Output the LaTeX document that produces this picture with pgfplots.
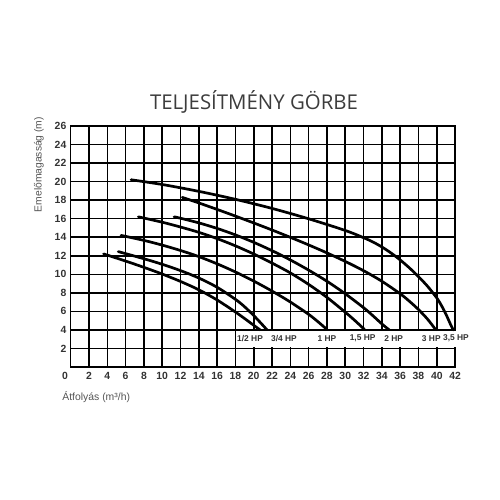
\documentclass[border=0pt]{standalone}
\usepackage{pgfplots}
\pgfplotsset{compat=1.18}
\usepackage{fontspec}
\setmainfont{Liberation Sans}
\newfontfamily\titlefont{Open Sans}
\definecolor{titlegray}{HTML}{3C3C3C}
\definecolor{labelgray}{HTML}{555555}
\definecolor{tickgray}{HTML}{333333}
\tikzset{pump/.style={black, line width=1.35pt, smooth, line cap=round}}

\begin{document}
\begin{tikzpicture}
% page frame, 1 px of the reference = 0.5pt
\useasboundingbox (-35.35pt,-66.5pt) rectangle (214.65pt,183.5pt);

\begin{axis}[
    at={(0pt,0pt)}, anchor=south west,
    scale only axis,
    width=192.2pt, height=120.5pt,
    xmin=0, xmax=42, ymin=0, ymax=26,
    xtick={0,2,...,42},
    xticklabels={\makebox[0pt][r]{0\kern1.45pt},2,4,6,8,10,12,14,16,18,20,22,24,26,28,30,32,34,36,38,40,42},
    ytick={2,4,...,26},
    major tick length=0pt,
    grid=major,
    major grid style={black, line width=0.8pt},
    axis line style={black, line width=0.8pt},
    /pgf/number format/assume math mode=true,
    tick label style={font=\fontsize{5.2}{6}\selectfont\bfseries, text=tickgray},
    yticklabel style={inner sep=1pt, xshift=-1pt},
    xticklabel style={inner sep=1pt, yshift=-1.5pt},
    clip=false,
]
% white band behind the pump labels
\fill[white] (axis cs:18.24,2.14) rectangle (axis cs:43.6,3.86);

% 1/2 HP
\addplot[pump] coordinates {
(3.6,12.2) (6,11.43) (8,10.75) (10,10.03) (12,9.23) (14,8.33) (16,7.23) (18,5.93) (19,5.23) (20,4.5) (20.7,4.0)};
% 3/4 HP
\addplot[pump] coordinates {
(5.2,12.45) (8,11.68) (10,11.08) (12,10.4) (14,9.6) (16,8.6) (18,7.3) (19,6.5) (20,5.55) (21,4.5) (21.45,4.0)};
% 1 HP
\addplot[pump] coordinates {
(5.5,14.2) (8,13.66) (10,13.15) (12,12.57) (14,11.91) (16,11.13) (18,10.25) (20,9.27) (22,8.19) (24,7.01) (26,5.68) (27,4.9) (28,4.05)};
% 1,5 HP
\addplot[pump] coordinates {
(7.4,16.2) (10,15.62) (12,15.1) (14,14.53) (16,13.85) (18,13.07) (20,12.19) (22,11.21) (24,10.15) (26,8.91) (28,7.51) (30,5.91) (31,5.06) (32.1,4.05)};
% 2 HP
\addplot[pump] coordinates {
(11.3,16.2) (12,16.05) (14,15.55) (16,14.95) (18,14.25) (20,13.45) (22,12.55) (24,11.55) (26,10.45) (28,9.25) (30,7.9) (32,6.4) (33,5.55) (34,4.65) (34.8,4.0)};
% 3 HP
\addplot[pump] coordinates {
(12.2,18.3) (14,17.7) (16,17.0) (18,16.28) (20,15.54) (22,14.78) (24,13.99) (26,13.17) (28,12.31) (30,11.39) (32,10.39) (34,9.25) (36,7.9) (37,7.1) (38,6.2) (39,5.15) (39.9,4.0)};
% 3,5 HP
\addplot[pump] coordinates {
(6.6,20.2) (10,19.69) (14,18.95) (18,18.09) (22,17.11) (26,15.99) (30,14.73) (32,13.95) (33,13.5) (34,12.95) (35,12.3) (36,11.55) (37,10.7) (38,9.75) (39,8.7) (40,7.45) (40.5,6.65) (41,5.7) (41.5,4.6) (41.8,4.0)};

% pump labels
\begin{scope}[every node/.style={font=\fontsize{4.2}{5}\selectfont\bfseries, text=tickgray, inner sep=0pt}]
\node at (axis cs:19.6,3.1) {1/2 HP};
\node at (axis cs:23.3,3.1) {3/4 HP};
\node at (axis cs:28.0,3.1) {1 HP};
\node at (axis cs:31.9,3.1) {1,5 HP};
\node at (axis cs:35.3,3.1) {2 HP};
\node at (axis cs:39.4,3.1) {3 HP};
\node at (axis cs:42.1,3.1) {3,5 HP};
\end{scope}
\end{axis}

% title and axis names
\node[font=\titlefont\fontsize{10.2}{12}\selectfont, text=titlegray] at (91.65pt,132.65pt) {TELJESÍTMÉNY GÖRBE};
\node[font=\fontsize{5.15}{6}\selectfont, text=labelgray, rotate=90] at (-15.85pt,101.25pt) {Emelőmagasság (m)};
\node[font=\fontsize{5.2}{6}\selectfont, text=labelgray, anchor=west, inner sep=0pt] at (-4.35pt,-14.85pt) {Átfolyás (m³/h)};
\end{tikzpicture}
\end{document}
